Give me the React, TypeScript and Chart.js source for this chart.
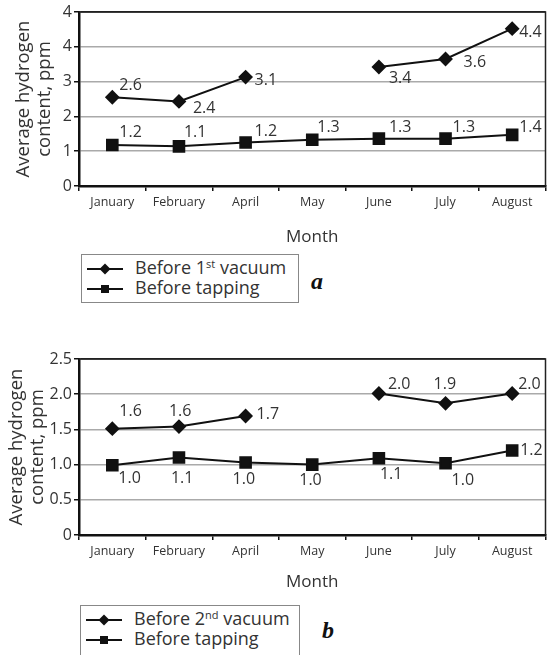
import React, { useEffect, useRef } from "react";
import { Chart, registerables } from "chart.js";

Chart.register(...registerables);

// ---------- data ----------
const months = ["January", "February", "April", "May", "June", "July", "August"];

// chart a
const aVacuum1 = [2.55, 2.43, 3.13, null, 3.42, 3.65, 4.52];
const aTapping = [1.18, 1.14, 1.25, 1.33, 1.36, 1.36, 1.47];
const aVacuum1Labels = ["2.6", "2.4", "3.1", null, "3.4", "3.6", "4.4"];
const aTappingLabels = ["1.2", "1.1", "1.2", "1.3", "1.3", "1.3", "1.4"];
const aTickLabels = ["0", "1", "2", "3", "4", "4"];

// chart b
const bVacuum2 = [1.51, 1.54, 1.69, null, 2.01, 1.87, 2.01];
const bTapping = [0.99, 1.1, 1.03, 1.0, 1.09, 1.02, 1.2];
const bVacuum2Labels = ["1.6", "1.6", "1.7", null, "2.0", "1.9", "2.0"];
const bTappingLabels = ["1.0", "1.1", "1.0", "1.0", "1.1", "1.0", "1.2"];
const bTickLabels = ["0", "0.5", "1.0", "1.5", "2.0", "2.5"];

const yTitle = ["Average hydrogen", "content, ppm"];
const xTitle = "Month";

// ---------- label placement (offsets from point, px) ----------
const aOffsets = [
  [[7, -12], [14, 7], [9, 3], [0, 0], [10, 11], [18, 3], [7, 4]],
  [[7, -12], [5, -14], [9, -11], [5, -12], [10, -11], [7, -11], [7, -7]],
];
const bOffsets = [
  [[7, -17], [-10, -15], [11, -2], [0, 0], [9, -9], [-12, -19], [6, -9]],
  [[6, 13], [-8, 21], [-13, 17], [-13, 16], [1, 16], [6, 17], [8, 0]],
];

const FONT = "'Open Sans', 'DejaVu Sans', sans-serif";

const pointLabelPlugin = {
  id: "pointLabels",
  afterDatasetsDraw(chart: any, _args: any, opts: any) {
    const ctx = chart.ctx;
    ctx.save();
    ctx.font = `16px ${FONT}`;
    ctx.fillStyle = "#333";
    ctx.textAlign = "left";
    ctx.textBaseline = "middle";
    chart.data.datasets.forEach((ds: any, di: number) => {
      const meta = chart.getDatasetMeta(di);
      const texts = opts.texts[di];
      const offs = opts.offsets[di];
      meta.data.forEach((el: any, i: number) => {
        if (ds.data[i] == null || texts[i] == null) return;
        ctx.fillText(texts[i], el.x + offs[i][0], el.y + offs[i][1]);
      });
    });
    ctx.restore();
  },
};

const framePlugin = {
  id: "frame",
  afterDraw(chart: any) {
    const { ctx, chartArea: a } = chart;
    ctx.save();
    ctx.strokeStyle = "#222";
    ctx.lineWidth = 1.5;
    ctx.beginPath();
    ctx.moveTo(a.left, a.top);
    ctx.lineTo(a.right, a.top);
    ctx.lineTo(a.right, a.bottom);
    ctx.stroke();
    ctx.restore();
  },
};

function makeConfig(
  s1: (number | null)[],
  s2: number[],
  names: string[],
  texts: (string | null)[][],
  offsets: number[][][],
  tickLabels: string[],
  max: number,
  step: number,
  xHeight: number,
  titlePad: number
): any {
  return {
    type: "line",
    data: {
      labels: months,
      datasets: [
        {
          label: names[0],
          data: s1,
          borderColor: "#111",
          backgroundColor: "#111",
          borderWidth: 2,
          pointStyle: "rectRot",
          pointRadius: 6,
          spanGaps: false,
          tension: 0,
        },
        {
          label: names[1],
          data: s2,
          borderColor: "#111",
          backgroundColor: "#111",
          borderWidth: 2,
          pointStyle: "rect",
          pointRadius: 7.5,
          tension: 0,
        },
      ],
    },
    options: {
      responsive: false,
      animation: false,
      layout: { padding: { top: 12, right: 2, left: 0, bottom: 0 } },
      plugins: {
        legend: { display: false },
        tooltip: { enabled: false },
        pointLabels: { texts, offsets },
      },
      scales: {
        x: {
          type: "category",
          offset: true,
          grid: {
            offset: true,
            drawOnChartArea: false,
            tickLength: 5,
            tickColor: "#111",
            lineWidth: 1.5,
          },
          border: { color: "#111", width: 2.5 },
          ticks: {
            color: "#333",
            font: { family: FONT, size: 12.5 },
            padding: 4,
            maxRotation: 0,
            autoSkip: false,
          },
          title: {
            display: true,
            text: xTitle,
            color: "#333",
            font: { family: FONT, size: 17 },
            padding: { top: 0, bottom: 3 },
          },
          afterFit: (s: any) => {
            s.height = xHeight;
          },
        },
        y: {
          min: 0,
          max,
          ticks: {
            stepSize: step,
            color: "#333",
            font: { family: FONT, size: 16 },
            padding: 2,
            callback: (_v: any, i: number) => tickLabels[i],
          },
          grid: {
            color: (c: any) => (c.tick && c.tick.value === max ? "#222" : "#aaa"),
            lineWidth: 1.5,
            tickLength: 5,
            tickColor: "#111",
          },
          border: { color: "#111", width: 2.5 },
          title: {
            display: true,
            text: yTitle,
            color: "#333",
            font: { family: FONT, size: 18.5, lineHeight: 1.1 },
            padding: { top: titlePad, bottom: 0 },
          },
          afterFit: (s: any) => {
            s.width = 79;
          },
        },
      },
    },
    plugins: [pointLabelPlugin, framePlugin],
  };
}

function ChartCanvas(props: { config: any; top: number; height: number }) {
  const ref = useRef<HTMLCanvasElement>(null);
  useEffect(() => {
    if (!ref.current) return;
    const chart = new Chart(ref.current, props.config);
    return () => chart.destroy();
  }, []);
  return (
    <canvas
      ref={ref}
      width={555}
      height={props.height}
      style={{ position: "absolute", left: 0, top: props.top, width: 555, height: props.height }}
    />
  );
}

function Marker({ kind }: { kind: "diamond" | "square" }) {
  return (
    <svg width={36} height={14} style={{ position: "absolute", left: 5, top: 3 }}>
      <line x1={0} y1={7} x2={36} y2={7} stroke="#111" strokeWidth={2} />
      {kind === "diamond" ? (
        <polygon points="18,1.5 23.5,7 18,12.5 12.5,7" fill="#111" />
      ) : (
        <rect x={14} y={3} width={8} height={8} fill="#111" />
      )}
    </svg>
  );
}

function Legend(props: {
  top: number;
  left: number;
  width: number;
  height: number;
  first: React.ReactNode;
  second: string;
}) {
  const row: React.CSSProperties = {
    position: "absolute",
    left: 0,
    height: 20,
    width: "100%",
  };
  const txt: React.CSSProperties = {
    position: "absolute",
    left: 53,
    top: -3,
    fontFamily: FONT,
    fontSize: 18,
    lineHeight: "22px",
    color: "#333",
    whiteSpace: "nowrap",
  };
  return (
    <div
      style={{
        position: "absolute",
        left: props.left,
        top: props.top,
        width: props.width,
        height: props.height,
        border: "1px solid #888",
        boxSizing: "border-box",
        background: "#fff",
      }}
    >
      <div style={{ ...row, top: 4 }}>
        <Marker kind="diamond" />
        <span style={txt}>{props.first}</span>
      </div>
      <div style={{ ...row, top: 24 }}>
        <Marker kind="square" />
        <span style={txt}>{props.second}</span>
      </div>
    </div>
  );
}

const sup: React.CSSProperties = { fontSize: 11, verticalAlign: "top", lineHeight: "16px" };

export default function App() {
  const configA = makeConfig(
    aVacuum1,
    aTapping,
    ["Before 1st vacuum", "Before tapping"],
    [aVacuum1Labels, aTappingLabels],
    aOffsets,
    aTickLabels,
    5,
    1,
    64,
    14
  );
  const configB = makeConfig(
    bVacuum2,
    bTapping,
    ["Before 2nd vacuum", "Before tapping"],
    [bVacuum2Labels, bTappingLabels],
    bOffsets,
    bTickLabels,
    2.5,
    0.5,
    60,
    7
  );
  const letter: React.CSSProperties = {
    position: "absolute",
    fontFamily: "'Liberation Serif', 'DejaVu Serif', serif",
    fontWeight: "bold",
    fontStyle: "italic",
    fontSize: 24,
    color: "#111",
  };
  return (
    <div style={{ position: "absolute", left: 0, top: 0, width: 555, height: 655, background: "#fff", overflow: "hidden" }}>
      <ChartCanvas config={configA} top={0} height={250} />
      <ChartCanvas config={configB} top={347} height={248} />
      <Legend
        top={254}
        left={81}
        width={218}
        height={49}
        first={
          <>
            Before 1<span style={sup}>st</span> vacuum
          </>
        }
        second="Before tapping"
      />
      <div style={{ ...letter, left: 311, top: 268 }}>a</div>
      <Legend
        top={605}
        left={80}
        width={220}
        height={60}
        first={
          <>
            Before 2<span style={sup}>nd</span> vacuum
          </>
        }
        second="Before tapping"
      />
      <div style={{ ...letter, left: 322, top: 617 }}>b</div>
    </div>
  );
}
